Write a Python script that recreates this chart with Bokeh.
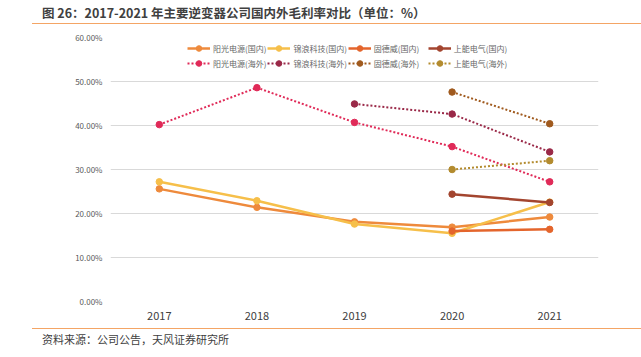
import math
from bokeh.plotting import figure
from bokeh.models import (FactorRange, Range1d, PrintfTickFormatter, Legend, LegendItem, Div)
from bokeh.layouts import column
from bokeh.embed import file_html
from bokeh.resources import INLINE

nan = float("nan")
years = ["2017", "2018", "2019", "2020", "2021"]
y_ticks = [0, 10, 20, 30, 40, 50, 60]

sungrow_dom = [25.6, 21.4, 18.1, 16.9, 19.2]
ginlong_dom = [27.2, 22.9, 17.6, 15.5, 22.6]
goodwe_dom = [nan, nan, nan, 16.0, 16.4]
sineng_dom = [nan, nan, nan, 24.4, 22.5]
sungrow_ovs = [40.2, 48.6, 40.7, 35.2, 27.2]
ginlong_ovs = [nan, nan, 44.9, 42.6, 34.0]
goodwe_ovs = [nan, nan, nan, 47.6, 40.4]
sineng_ovs = [nan, nan, nan, 30.0, 32.0]

title_text = "图 26：2017-2021 年主要逆变器公司国内外毛利率对比（单位：%）"
source_text = "资料来源：公司公告，天风证券研究所"

series = [
    ("阳光电源(国内)", sungrow_dom, "#EE8A3C", "solid"),
    ("锦浪科技(国内)", ginlong_dom, "#F6BF4A", "solid"),
    ("固德威(国内)", goodwe_dom, "#E4652C", "solid"),
    ("上能电气(国内)", sineng_dom, "#A3452F", "solid"),
    ("阳光电源(海外)", sungrow_ovs, "#E02A58", "2 2"),
    ("锦浪科技(海外)", ginlong_ovs, "#9A2948", "2 2"),
    ("固德威(海外)", goodwe_ovs, "#A05A1E", "2 2"),
    ("上能电气(海外)", sineng_ovs, "#B38B2E", "2 2"),
]

FONT = "Noto Sans CJK SC"
W = 641
RULE = "#F4A565"

p = figure(width=W, height=304, x_range=FactorRange(*years, range_padding=0),
           y_range=Range1d(0, 60), output_backend="svg", toolbar_location=None,
           min_border_left=110, min_border_right=43, min_border_top=13, min_border_bottom=27)
p.outline_line_color = None
p.background_fill_color = "white"
p.border_fill_color = "white"
p.xgrid.grid_line_color = None
p.ygrid.grid_line_color = "#D9D9D9"
p.ygrid.grid_line_width = 1
p.yaxis.ticker = y_ticks
p.yaxis.formatter = PrintfTickFormatter(format="%.2f%%")
p.yaxis.axis_line_color = None
p.yaxis.major_tick_line_color = None
p.yaxis.minor_tick_line_color = None
p.yaxis.major_tick_out = 0
p.yaxis.minor_tick_out = 0
p.yaxis.major_label_text_font = FONT
p.yaxis.major_label_text_font_size = "8px"
p.yaxis.major_label_text_color = "#595959"
p.yaxis.major_label_standoff = 8
p.xaxis.axis_line_color = None
p.xaxis.major_tick_line_color = None
p.xaxis.major_tick_out = 0
p.xaxis.major_label_text_font = FONT
p.xaxis.major_label_text_font_size = "11px"
p.xaxis.major_label_text_color = "#404040"
p.xaxis.major_label_standoff = 10

items = []
for name, vals, color, dash in series:
    lw = 2.5 if dash == "solid" else 2
    r1 = p.line(years, vals, line_color=color, line_width=lw, line_dash=dash)
    r2 = p.scatter(years, vals, size=6.5, fill_color=color, line_color=color)
    items.append(LegendItem(label=name, renderers=[r1, r2]))

legend = Legend(items=items, orientation="horizontal", ncols=4,
                location=(77, 231), padding=0, margin=0, spacing=1,
                glyph_width=23, glyph_height=14, label_height=14, label_width=53,
                label_standoff=3, label_text_font=FONT, label_text_font_size="8px",
                label_text_color="#666666", border_line_color=None,
                background_fill_alpha=0)
p.add_layout(legend, "center")

top = Div(width=W, height=24, margin=(0, 0, 0, 0), text=(
    f'<div style="position:absolute;left:42px;top:4px;white-space:nowrap;'
    f'font-family:\'{FONT}\';font-size:12.5px;font-weight:bold;color:#404040;line-height:17px;">'
    f'{title_text}</div>'
    f'<div style="position:absolute;left:32px;top:23px;width:609px;height:1px;background:{RULE};"></div>'))
bottom = Div(width=W, height=29, margin=(0, 0, 0, 0), text=(
    f'<div style="position:absolute;left:32px;top:0px;width:609px;height:1px;background:{RULE};"></div>'
    f'<div style="position:absolute;left:42px;top:3px;white-space:nowrap;'
    f'font-family:\'{FONT}\';font-size:11px;color:#404040;line-height:16px;">'
    f'{source_text}</div>'))

layout = column(top, p, bottom, spacing=0)
open("out.html", "w").write(file_html(layout, INLINE))
